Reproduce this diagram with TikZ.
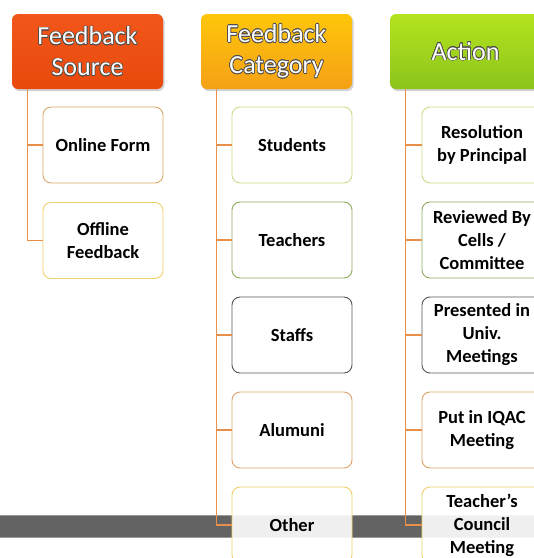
\documentclass[tikz,border=0pt]{standalone}
\usepackage{fontspec}
\setmainfont{Carlito}
\usepackage{contour}
\contourlength{0.6pt}
\usetikzlibrary{shadows}
\definecolor{srcred}{HTML}{F2561A}
\definecolor{srcdark}{HTML}{E84A0C}
\definecolor{catyel}{HTML}{FFC60A}
\definecolor{catorg}{HTML}{F5A016}
\definecolor{actlight}{HTML}{B4E41E}
\definecolor{actdark}{HTML}{8CC41C}
\definecolor{linkorange}{HTML}{E8904A}
\definecolor{bandgray}{HTML}{636363}
\definecolor{edgetan}{HTML}{D9A86A}
\definecolor{edgeyel}{HTML}{F0D06A}
\definecolor{edgelime}{HTML}{CCDB8A}
\definecolor{edgegreen}{HTML}{8FAA5E}
\definecolor{edgegray}{HTML}{555555}
\definecolor{edgeorg}{HTML}{DDA266}
\newcommand{\hd}[1]{\contour{black!70}{#1}}
\tikzset{
  head/.style={rounded corners=6pt, minimum width=151pt, minimum height=75pt,
    align=center, text=white, font=\fontsize{26}{31}\selectfont,
    drop shadow={opacity=0.35,shadow xshift=1.5pt,shadow yshift=-2pt}},
  leaf/.style={draw, rounded corners=8pt, fill=white, fill opacity=0.9, text opacity=1,
    line width=0.9pt, minimum width=120pt, minimum height=76pt, align=center,
    inner sep=1pt, font=\bfseries\fontsize{18.5}{23}\selectfont},
  link/.style={draw=linkorange, line width=1.2pt}
}
\begin{document}
\begin{tikzpicture}
      [x=1pt,y=-1pt]
      \clip (0,0) rectangle (534,558);
      \fill[white] (0,0) rectangle (534,558);
      \fill[bandgray] (0,515) rectangle (534,537);
      \draw[black!40,line width=0.8pt] (0,515) -- (534,515) (0,537) -- (534,537);

      \node[head, top color=srcred, bottom color=srcdark] (src) at (87.5,51.5)
        {\hd{Feedback}\\\hd{Source}};
      \node[head, top color=catyel, bottom color=catorg] (cat) at (276.5,51.5)
        {\hd{Feedback}\\\hd{Category}};
      \node[head, top color=actlight, bottom color=actdark] (act) at (465.5,51.5)
        {\hd{Action}};

      \node[leaf, draw=edgetan] (s1) at (103,145) {Online Form};
      \node[leaf, draw=edgeyel] (s2) at (103,240.5) {Offline\\Feedback};
      \foreach \t/\c [count=\i] in {Students/edgelime, Teachers/edgegreen,
        Staffs/edgegray, Alumuni/edgeorg, Other/edgeyel} {
        \node[leaf, draw=\c] (c\i) at (292,145+95*\i-95) {\t};
      }
      \foreach \t/\c [count=\i] in {{Resolution\\by Principal}/edgelime,
        {Reviewed By\\Cells /\\Committee}/edgegreen,
        {Presented in\\Univ.\\Meetings}/edgegray,
        {Put in IQAC\\Meeting}/edgeorg,
        {Teacher’s\\Council\\Meeting}/edgeyel} {
        \node[leaf, draw=\c] (a\i) at (482,145+95*\i-95) {\t};
      }

      \foreach \i in {1,2} {
        \draw[link] ([xshift=16pt]src.south west) |- (s\i.west);
      }
      \foreach \i in {1,...,5} {
        \draw[link] ([xshift=16pt]cat.south west) |- (c\i.west);
        \draw[link] ([xshift=16pt]act.south west) |- (a\i.west);
      }
    \end{tikzpicture}
\end{document}
